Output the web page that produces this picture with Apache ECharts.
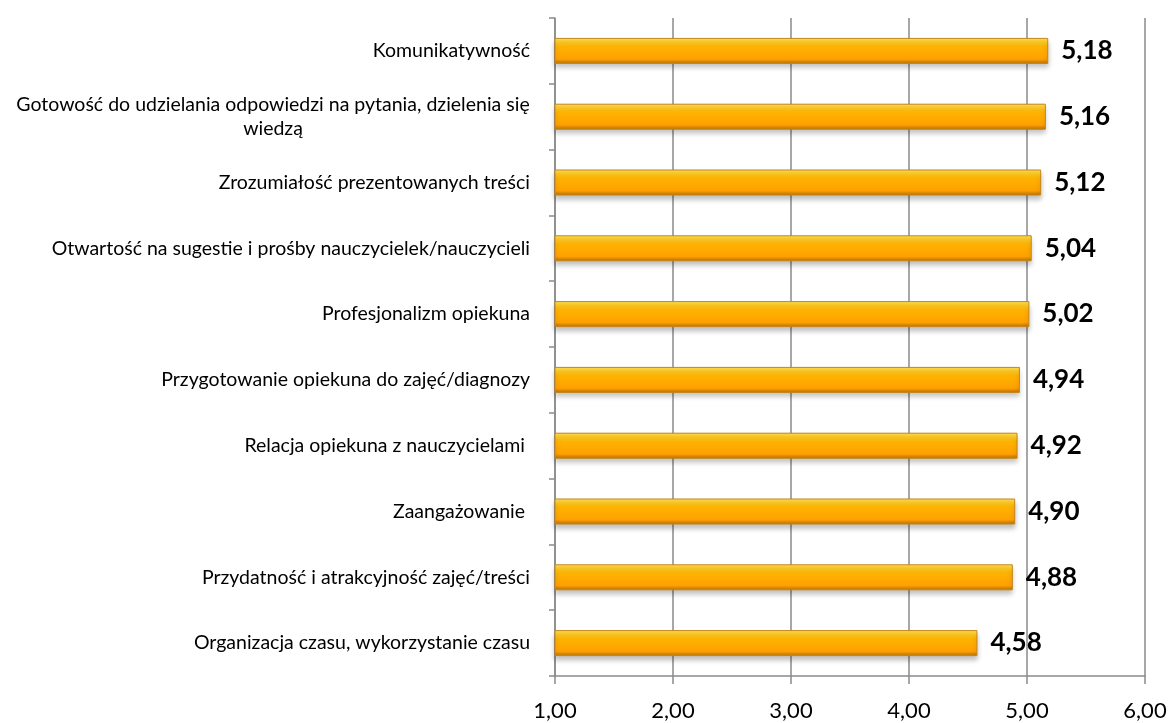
<!DOCTYPE html>
<html>
<head>
<meta charset="utf-8">
<script src="https://cdn.jsdelivr.net/npm/echarts@6/dist/echarts.min.js"></script>
<style>
  html, body { margin: 0; padding: 0; background: #fff; }
  #chart { width: 1175px; height: 723px; }
</style>
</head>
<body>
<div id="chart"></div>
<script>
// Categories listed bottom-to-top (ECharts category axis grows upward)
const categories = [
  'Organizacja czasu, wykorzystanie czasu',
  'Przydatność i atrakcyjność zajęć/treści',
  'Zaangażowanie ',
  'Relacja opiekuna z nauczycielami ',
  'Przygotowanie opiekuna do zajęć/diagnozy',
  'Profesjonalizm opiekuna',
  'Otwartość na sugestie i prośby nauczycielek/nauczycieli',
  'Zrozumiałość prezentowanych treści',
  'Gotowość do udzielania odpowiedzi na pytania, dzielenia się\nwiedzą',
  'Komunikatywność'
];
const scores = [4.58, 4.88, 4.90, 4.92, 4.94, 5.02, 5.04, 5.12, 5.16, 5.18];
const axisMin = 1;
const axisMax = 6;
const axisStep = 1;

const fmt = v => v.toFixed(2).replace('.', ',');
const FONT = 'Lato, "Open Sans", sans-serif';
const LABEL_SIZE = 19.5;
const GRID_GRAY = '#8a8a8a';

// Multi-line category names: lines centred on each other, block right-aligned
const ctx = document.createElement('canvas').getContext('2d');
ctx.font = LABEL_SIZE + 'px ' + FONT;
function categoryLabel(name) {
  const lines = name.split('\n');
  if (lines.length === 1) return name;
  const w = Math.ceil(Math.max(...lines.map(l => ctx.measureText(l).width)));
  categoryLabel.width = w;
  return lines.map(l => '{c|' + l + '}').join('\n');
}
categoryLabel.width = 0;
categories.forEach(categoryLabel);

const chart = echarts.init(document.getElementById('chart'));
chart.setOption({
  animation: false,
  grid: { left: 555, right: 30, top: 18, bottom: 47, containLabel: false },
  xAxis: {
    type: 'value',
    min: axisMin,
    max: axisMax,
    interval: axisStep,
    axisLine: { show: true, lineStyle: { color: GRID_GRAY, width: 1.5 } },
    axisTick: { show: true, length: 8, lineStyle: { color: GRID_GRAY, width: 1.5 } },
    splitLine: { show: true, lineStyle: { color: GRID_GRAY, width: 1.5 } },
    axisLabel: {
      formatter: fmt,
      color: '#000',
      fontFamily: FONT,
      fontSize: 22,
      margin: 24
    }
  },
  yAxis: {
    type: 'category',
    data: categories,
    axisLine: { show: true, lineStyle: { color: GRID_GRAY, width: 1.5 } },
    axisTick: { show: true, length: 6, lineStyle: { color: GRID_GRAY, width: 1.5 } },
    axisLabel: {
      formatter: categoryLabel,
      color: '#000',
      fontFamily: FONT,
      fontSize: LABEL_SIZE,
      lineHeight: 24,
      align: 'right',
      margin: 25,
      rich: {
        c: {
          width: categoryLabel.width,
          align: 'center',
          color: '#000',
          fontFamily: FONT,
          fontSize: LABEL_SIZE,
          lineHeight: 24
        }
      }
    }
  },
  series: [{
    type: 'bar',
    data: scores,
    barWidth: 26,
    itemStyle: {
      // bevelled orange: light top edge, orange body, dark bottom rim
      color: new echarts.graphic.LinearGradient(0, 0, 0, 1, [
        { offset: 0, color: '#ffe25a' },
        { offset: 0.12, color: '#ffd030' },
        { offset: 0.35, color: '#ffb300' },
        { offset: 0.82, color: '#ffa000' },
        { offset: 0.9, color: '#dc8800' },
        { offset: 1, color: '#b57300' }
      ]),
      borderColor: '#c4851a',
      borderWidth: 1,
      shadowColor: 'rgba(0,0,0,0.25)',
      shadowBlur: 5,
      shadowOffsetY: 4
    },
    label: {
      show: true,
      position: 'right',
      distance: 13,
      formatter: p => fmt(p.value),
      color: '#000',
      fontFamily: FONT,
      fontWeight: 'bold',
      fontSize: 26
    }
  }]
});
</script>
</body>
</html>
